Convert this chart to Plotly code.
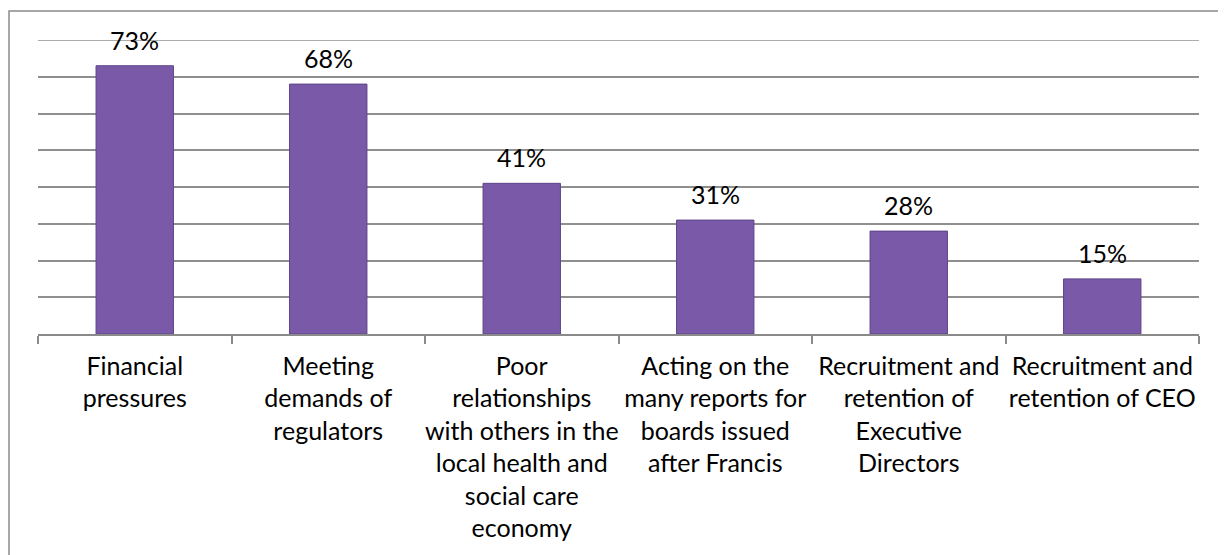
import plotly.graph_objects as go

categories = [
    "Financial<br>pressures",
    "Meeting<br>demands of<br>regulators",
    "Poor<br>relationships<br>with others in the<br>local health and<br>social care<br>economy",
    "Acting on the<br>many reports for<br>boards issued<br>after Francis",
    "Recruitment and<br>retention of<br>Executive<br>Directors",
    "Recruitment and<br>retention of CEO",
]
values = [73, 68, 41, 31, 28, 15]
labels = ["73%", "68%", "41%", "31%", "28%", "15%"]
y_max = 80
y_step = 10

FONT = "Lato"
W, H = 1218, 547
ML, MR, MT, MB = 30, 27, 32, 221
PW, PH = W - ML - MR, H - MT - MB
GRID = "#8f8f8f"

fig = go.Figure()
fig.add_trace(go.Bar(
    x=categories, y=values,
    marker=dict(color="#7A5AA8", line=dict(color="#5E4487", width=1)),
    hoverinfo="skip",
))

for c, v, t in zip(categories, values, labels):
    fig.add_annotation(x=c, y=v, text=t, showarrow=False, yanchor="middle",
                       yshift=26, font=dict(family=FONT, size=25, color="#000000"))

# top gridline (plotly omits the one at the range edge)
fig.add_shape(type="line", xref="paper", yref="y", x0=0, x1=1, y0=y_max, y1=y_max,
              line=dict(color=GRID, width=1.5), layer="below")

# chart outer border (extends beyond the visible window on right/bottom)
fig.add_shape(type="rect", xref="paper", yref="paper",
              x0=(1 - ML) / PW, x1=1.5, y0=-3.0, y1=1 + (MT - 3) / PH,
              line=dict(color="#8a8a8a", width=1.5), fillcolor="rgba(0,0,0,0)", layer="below")

fig.update_layout(
    width=W, height=H,
    margin=dict(l=ML, r=MR, t=MT, b=MB, autoexpand=False),
    paper_bgcolor="white", plot_bgcolor="white",
    bargap=0.6,
    showlegend=False,
    font=dict(family=FONT, size=25, color="#000000"),
)
fig.update_xaxes(
    showline=True, linecolor="#8a8a8a", linewidth=1.5,
    ticks="outside", tickson="boundaries", ticklen=8, tickcolor="#8a8a8a", tickwidth=1.5,
    showgrid=False, tickfont=dict(family=FONT, size=25, color="#000000"),
    ticklabelstandoff=9, tickangle=0, automargin=False,
)
fig.update_yaxes(
    range=[0, y_max], tick0=0, dtick=y_step, showticklabels=False, showgrid=True,
    gridcolor=GRID, gridwidth=1.5, zeroline=False, showline=False, automargin=False,
)

fig.write_html("out.html")
